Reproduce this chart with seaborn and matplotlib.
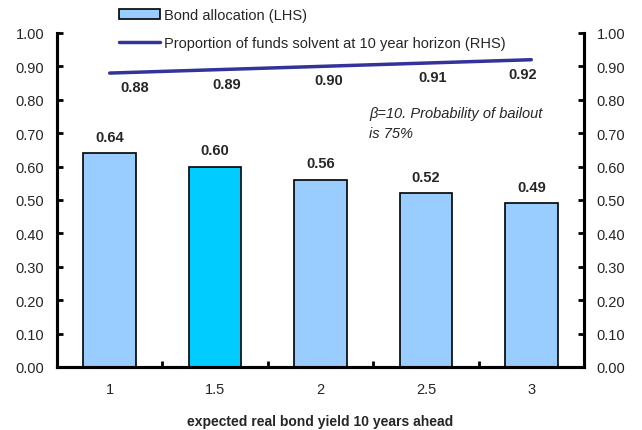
import matplotlib
matplotlib.use("Agg")
import matplotlib.pyplot as plt
from matplotlib.patches import Patch
from matplotlib.lines import Line2D
from matplotlib.ticker import FixedLocator, FormatStrFormatter
import seaborn as sns
import pandas as pd

# Data
yields = ["1", "1.5", "2", "2.5", "3"]
bond_allocation = [0.64, 0.60, 0.56, 0.52, 0.49]
solvent_share = [0.88, 0.89, 0.90, 0.91, 0.92]
bar_colors = ["#99CCFF", "#00CCFF", "#99CCFF", "#99CCFF", "#99CCFF"]

sns.set_theme(style="white")
plt.rcParams["font.family"] = ["Liberation Sans", "DejaVu Sans"]

FS = 10.5

fig = plt.figure(figsize=(6.42, 4.31), dpi=100)
ax = fig.add_axes([57 / 642, 1 - 368 / 431, (584 - 57) / 642, (368 - 34) / 431])

df = pd.DataFrame({"yield": yields, "alloc": bond_allocation})
sns.barplot(data=df, x="yield", y="alloc", hue="yield", palette=bar_colors,
            order=yields, hue_order=yields, legend=False, width=0.5,
            edgecolor="black", linewidth=1.2, saturation=1, ax=ax)

ax.set_xlim(-0.5, len(yields) - 0.5)
ax.set_ylim(0, 1.0)
ax.yaxis.set_major_locator(FixedLocator([i / 10 for i in range(11)]))
ax.yaxis.set_major_formatter(FormatStrFormatter("%.2f"))
ax.set_ylabel("")
ax.set_xlabel("expected real bond yield 10 years ahead", fontsize=10,
              fontweight="bold", labelpad=13)

# Bar value labels
for i, v in enumerate(bond_allocation):
    ax.annotate(f"{v:.2f}", (i, v), xytext=(0, 12), textcoords="offset points",
                ha="center", va="center", fontsize=FS, fontweight="bold")

# Secondary axis with solvency line
ax2 = ax.twinx()
sns.lineplot(x=list(range(len(yields))), y=solvent_share, ax=ax2,
             color="#333399", linewidth=2.5)
ax2.set_ylim(0, 1.0)
ax2.yaxis.set_major_locator(FixedLocator([i / 10 for i in range(11)]))
ax2.yaxis.set_major_formatter(FormatStrFormatter("%.2f"))
ax2.set_xlim(-0.5, len(yields) - 0.5)

label_dx = [18, 8, 6, 5, -6]
for i, v in enumerate(solvent_share):
    ax2.annotate(f"{v:.2f}", (i, v), xytext=(label_dx[i], -10),
                 textcoords="offset points", ha="center", va="center",
                 fontsize=FS, fontweight="bold")

ax.text(0.592, 0.782, "β=10. Probability of bailout\nis 75%", transform=ax.transAxes,
        fontsize=FS, fontstyle="italic", ha="left", va="top", linespacing=1.6)

# Spines and ticks
for a in (ax, ax2):
    a.spines["top"].set_visible(False)
    for s in ("left", "right", "bottom"):
        a.spines[s].set_linewidth(2.2)
        a.spines[s].set_color("black")
ax.tick_params(axis="y", direction="in", length=4, width=2, color="black",
               labelsize=FS, pad=9, left=True)
ax2.tick_params(axis="y", direction="in", length=4, width=2, color="black",
                labelsize=FS, pad=9, right=True)
ax.tick_params(axis="x", which="major", length=0, labelsize=FS, pad=11)
ax.xaxis.set_minor_locator(FixedLocator([i + 0.5 for i in range(len(yields) - 1)]))
ax.tick_params(axis="x", which="minor", direction="in", length=4, width=2,
               color="black", bottom=True)
ax.grid(False)
ax2.grid(False)

# Legend above the plot area
handles = [Patch(facecolor="#99CCFF", edgecolor="black", linewidth=1.2,
                 label="Bond allocation (LHS)"),
           Line2D([0], [0], color="#333399", linewidth=2.5,
                  label="Proportion of funds solvent at 10 year horizon (RHS)")]
fig.legend(handles=handles, loc="upper left", bbox_to_anchor=(106 / 642, 1.01),
           frameon=False, fontsize=FS, handlelength=2.8, handletextpad=0.25,
           labelspacing=0.98)

fig.savefig("out.png", dpi=100)
